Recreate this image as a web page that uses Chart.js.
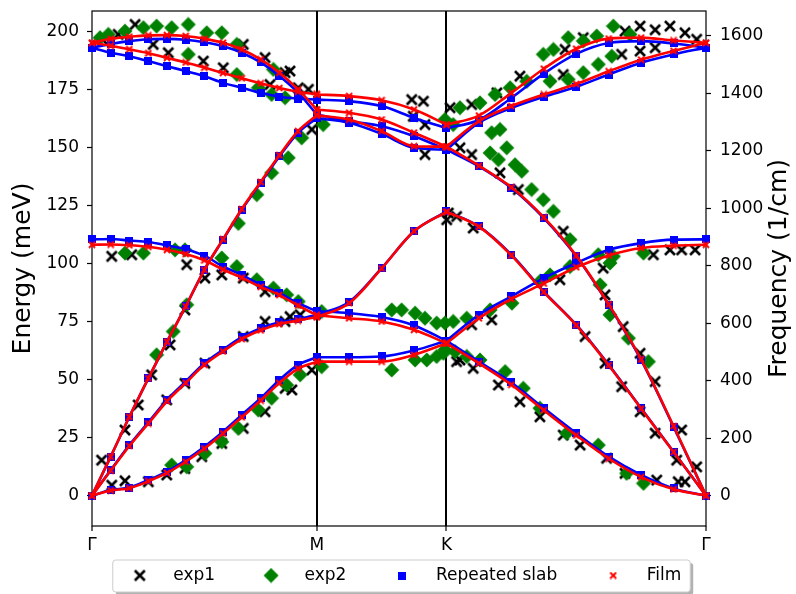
<!DOCTYPE html>
<html>
<head>
<meta charset="utf-8">
<script src="https://cdn.jsdelivr.net/npm/chart.js@4.4.1/dist/chart.umd.min.js"></script>
<style>
  html, body { margin: 0; padding: 0; background: #fff; }
  #wrap { width: 796px; height: 594px; }
</style>
</head>
<body>
<div id="wrap"><canvas id="bands" width="796" height="594"></canvas></div>
<script>
'use strict';

// path positions (Γ-M-K-Γ), q in path units
let qGM = [0, 0.072, 0.144, 0.217, 0.289, 0.361, 0.433, 0.505, 0.577, 0.650, 0.722, 0.794, 0.866];
let qMK = [0.866, 0.991, 1.116, 1.241, 1.366];
let qKG = [1.366, 1.491, 1.616, 1.741, 1.866, 1.991, 2.116, 2.241, 2.366];

let symQ = [0, 0.866, 1.366, 2.366];
let symLabels = ['Γ', 'M', 'K', 'Γ'];

let energyTicks = [0, 25, 50, 75, 100, 125, 150, 175, 200];
let freqTicks = [0, 200, 400, 600, 800, 1000, 1200, 1400, 1600];

let yMin = -13.1;
let yMax = 209.0;
let cmPerMeV = 8.0655;

// Repeated slab (blue), branches ZA, TA, LA, ZO, TO, LO
let slabGM = [
    [0, 2.4, 3.5, 6.7, 10.3, 15.3, 21.1, 27.6, 34.8, 42.0, 49.9, 56.4, 59.7],
    [0, 11.0, 21.8, 31.6, 41.3, 49.2, 57.1, 62.9, 68.3, 72.2, 74.8, 76.1, 78.0],
    [0, 16.8, 34.0, 50.6, 66.4, 81.6, 97.4, 110.4, 123.3, 134.9, 146.3, 156.5, 162.8],
    [110.5, 110.7, 110.0, 109.4, 107.9, 106.3, 103.5, 98.8, 95.2, 90.9, 87.3, 83.0, 79.5],
    [193.2, 191.0, 189.5, 187.4, 185.2, 183.1, 180.9, 178.0, 175.9, 173.7, 172.0, 171.2, 170.8],
    [193.2, 194.8, 196.0, 196.8, 197.0, 196.6, 195.5, 193.8, 191.0, 186.8, 181.0, 173.8, 164.4]
];
let slabMK = [
    [59.7, 59.7, 60.0, 62.6, 66.8],
    [78.0, 83.5, 98.1, 114.0, 122.6],
    [162.8, 160.8, 156.0, 150.0, 149.2],
    [79.5, 78.7, 77.0, 73.4, 66.8],
    [170.8, 170.1, 168.0, 162.9, 158.5],
    [164.4, 161.5, 159.3, 155.0, 149.2]
];
let slabKG = [
    [66.8, 57.8, 48.8, 37.7, 26.9, 16.8, 8.9, 3.1, 0],
    [122.6, 116.1, 103.9, 88.0, 73.7, 56.4, 37.7, 18.9, 0],
    [149.2, 142.0, 132.7, 119.7, 103.2, 82.3, 58.5, 29.7, 0],
    [66.8, 78.0, 85.9, 93.8, 100.3, 106.0, 108.9, 110.4, 110.5],
    [158.5, 162.0, 171.5, 182.0, 190.5, 195.2, 196.0, 195.0, 193.2],
    [149.2, 160.8, 167.2, 172.0, 176.3, 181.6, 186.7, 190.3, 193.2]
];

// Film (red)
let filmGM = [
    [0, 2.2, 3.2, 6.2, 9.8, 14.6, 20.3, 26.8, 33.8, 41.0, 48.6, 54.8, 57.8],
    [0, 10.8, 21.4, 31.1, 40.7, 48.6, 56.4, 62.2, 67.5, 71.3, 74.0, 75.5, 77.0],
    [0, 16.8, 34.0, 50.6, 66.4, 81.6, 97.4, 110.6, 123.6, 135.3, 146.8, 157.2, 164.0],
    [108.2, 108.3, 108.0, 107.3, 106.0, 104.2, 101.5, 97.5, 94.0, 90.0, 86.5, 82.0, 77.8],
    [195.3, 194.0, 192.5, 190.8, 188.8, 186.8, 184.6, 182.3, 180.0, 177.8, 175.8, 174.2, 173.0],
    [195.3, 197.0, 197.9, 198.5, 198.6, 198.2, 197.0, 195.3, 192.4, 188.1, 182.4, 175.2, 166.5]
];
let filmMK = [
    [57.8, 57.8, 57.8, 60.7, 65.7],
    [77.0, 83.0, 98.0, 114.0, 122.4],
    [164.0, 162.2, 157.2, 150.7, 150.5],
    [77.8, 76.5, 75.1, 71.5, 65.7],
    [173.0, 172.3, 170.5, 166.5, 160.0],
    [166.5, 165.1, 162.2, 156.5, 150.5]
];
let filmKG = [
    [65.7, 57.0, 47.8, 36.8, 26.0, 16.0, 8.0, 2.7, 0],
    [122.4, 116.0, 103.6, 87.8, 73.5, 56.2, 37.5, 18.8, 0],
    [150.5, 142.3, 133.0, 120.0, 103.5, 82.5, 58.8, 30.0, 0],
    [65.7, 76.5, 84.8, 91.5, 98.5, 103.6, 106.8, 107.8, 108.2],
    [160.0, 163.9, 173.7, 184.1, 192.7, 197.1, 197.5, 196.3, 195.3],
    [150.5, 161.5, 168.0, 173.0, 177.5, 183.0, 188.0, 191.8, 195.3]
];

// experiment 1 (black x)
let exp1Q = [0.101, 0.166, 0.236, 0.294, 0.429, 0.506, 0.583, 0.667, 0.744, 0.686, 0.795, 0.763, 0.834, 0.847, 0.042,
    1.232, 1.277, 1.283, 1.283, 1.238, 1.380, 1.367, 1.405,
    1.463, 1.560, 1.649, 1.823, 1.893, 2.054, 2.112, 2.170, 2.227, 2.285, 2.330, 2.041, 2.112, 2.170, 1.816,
    1.418, 1.463, 1.373, 1.469, 1.572, 1.643, 1.816, 2.227, 2.272, 2.324, 2.163,
    1.418, 1.469, 1.566, 1.649, 1.726, 1.816, 1.881, 1.983, 2.054, 2.176, 2.259, 2.285, 2.330, 2.272, 2.253,
    2.170, 2.112, 2.041, 1.977, 1.900, 2.170, 2.112, 2.047, 1.977, 1.970, 1.803, 1.540, 1.463,
    0.037, 0.076, 0.127, 0.127, 0.178, 0.230, 0.301, 0.358, 0.435, 0.500, 0.365, 0.583, 0.667, 0.744, 0.667,
    0.583, 0.435, 0.358, 0.288, 0.744, 0.667, 0.583, 0.500, 0.423, 0.358, 0.288, 0.217, 0.076, 0.153,
    0.763, 0.802, 0.847, 0.770, 1.405];
let exp1E = [198.9, 203.2, 194.6, 191.0, 187.4, 184.5, 194.6, 188.9, 182.4, 177.3, 175.9, 183.1, 175.2, 157.9, 196.5,
    170.8, 170.1, 160.0, 147.1, 163.6, 167.3, 119.0, 120.4,
    168.7, 173.7, 180.9, 192.4, 197.5, 200.3, 202.5, 200.9, 202.5, 199.6, 196.8, 190.3, 191.7, 193.2, 181.6,
    150.0, 147.1, 121.9, 115.4, 139.2, 132.0, 114.0, 106.0, 106.0, 106.0, 103.9,
    58.5, 54.9, 47.7, 40.5, 34.0, 26.1, 21.8, 16.1, 9.6, 6.7, 6.0, 6.0, 12.4, 28.3, 15.3,
    26.9, 36.2, 47.0, 57.1, 68.6, 49.2, 61.4, 72.9, 86.6, 98.1, 93.1, 75.8, 73.7,
    15.3, 4.5, 6.4, 28.3, 39.1, 52.1, 65.0, 80.1, 93.8, 95.2, 99.6, 93.8, 88.0, 75.1, 75.1,
    68.6, 57.1, 48.4, 41.3, 46.3, 36.2, 29.0, 22.5, 16.8, 11.7, 8.9, 6.0, 103.2, 103.9,
    77.2, 78.0, 54.2, 45.6, 57.8];

// experiment 2 (green diamonds)
let exp2Q = [0.031, 0.063, 0.127, 0.198, 0.249, 0.307, 0.371, 0.442, 0.500, 0.558, 0.699, 0.371, 0.558, 0.641,
    0.692, 0.744, 0.756, 0.692, 0.635, 0.564, 0.320, 0.358, 0.198, 0.127, 0.500, 0.558, 0.808, 0.891,
    0.365, 0.313, 0.249, 0.635, 0.699, 0.750, 0.795, 0.307, 0.365, 0.435, 0.500, 0.564, 0.641, 0.692, 0.750,
    0.802, 0.885, 0.885,
    1.155, 1.245, 1.290, 1.328, 1.354, 1.155, 1.193, 1.245, 1.283, 1.328, 1.392, 1.360, 1.392,
    1.418, 1.495, 1.553, 1.611, 1.675, 1.739, 1.778, 1.835, 1.893, 1.945, 2.009, 2.073, 1.765, 1.835, 1.893,
    1.951, 2.003,
    1.540, 1.572, 1.598, 1.534, 1.566, 1.630, 1.656, 1.694, 1.739, 1.778, 1.842, 1.951, 2.009, 2.125,
    1.360, 1.444, 1.534, 1.618, 1.726, 1.765, 1.842, 1.996, 1.360, 1.399, 1.444, 1.495, 1.592, 1.662, 1.726,
    1.829, 1.951, 2.060, 2.125, 1.958, 1.996, 2.067, 2.144];
let exp2E = [197.5, 198.9, 200.3, 201.8, 202.5, 201.8, 203.2, 199.6, 199.6, 194.6, 183.8, 190.3, 181.6, 175.9,
    173.0, 171.6, 145.7, 139.2, 129.8, 117.4, 106.0, 106.0, 104.6, 104.6, 102.5, 98.8, 154.3, 160.0,
    82.3, 70.8, 60.7, 93.1, 89.5, 86.6, 83.7, 13.2, 12.4, 18.2, 23.2, 29.0, 36.9, 42.0, 47.7,
    52.1, 79.4, 55.6,
    54.2, 58.5, 58.5, 60.0, 61.4, 80.1, 80.1, 78.7, 76.5, 74.4, 75.1, 162.2, 160.0,
    167.3, 169.4, 173.0, 175.9, 178.7, 190.3, 192.4, 197.5, 196.1, 198.2, 202.5, 198.9, 178.7, 179.5, 182.4,
    186.0, 189.5,
    156.5, 157.9, 150.0, 147.8, 144.9, 142.7, 139.9, 132.0, 127.6, 122.6, 110.4, 103.9, 103.2, 104.6,
    74.4, 76.5, 80.1, 83.0, 92.4, 95.2, 98.8, 100.3, 62.9, 62.1, 60.0, 58.5, 53.5, 46.3, 37.7,
    26.9, 21.8, 9.6, 5.3, 90.9, 78.0, 67.9, 57.8];

let fontName = 'DejaVu Sans';
Chart.defaults.font.family = fontName;
Chart.defaults.color = '#000';

function makeMarker(size, draw) {
    let c = document.createElement('canvas');
    c.width = size;
    c.height = size;
    draw(c.getContext('2d'), size);
    return c;
}

let crossBlack = makeMarker(14, function (g, s) {
    g.strokeStyle = '#000';
    g.lineWidth = 2.6;
    g.beginPath();
    g.moveTo(2, 2); g.lineTo(s - 2, s - 2);
    g.moveTo(s - 2, 2); g.lineTo(2, s - 2);
    g.stroke();
});
let diamondGreen = makeMarker(16, function (g, s) {
    g.fillStyle = '#008000';
    g.beginPath();
    g.moveTo(s / 2, 0.5); g.lineTo(s - 0.5, s / 2);
    g.lineTo(s / 2, s - 0.5); g.lineTo(0.5, s / 2);
    g.closePath();
    g.fill();
});
let squareBlue = makeMarker(8, function (g, s) {
    g.fillStyle = '#0000ff';
    g.fillRect(0, 0, s, s);
});
let crossRed = makeMarker(8, function (g, s) {
    g.strokeStyle = '#ff0000';
    g.lineWidth = 2;
    g.beginPath();
    g.moveTo(1, 1); g.lineTo(s - 1, s - 1);
    g.moveTo(s - 1, 1); g.lineTo(1, s - 1);
    g.stroke();
});

function zipPoints(qs, es) {
    return qs.map((q, i) => ({ x: q, y: es[i] }));
}

// each branch split at M and K, a null point breaks the line
function toLines(gm, mk, kg) {
    let pts = [];
    let segs = [[qGM, gm], [qMK, mk], [qKG, kg]];
    for (let b = 0; b < gm.length; b++) {
        for (let s = 0; s < segs.length; s++) {
            let qs = segs[s][0];
            let vals = segs[s][1][b];
            for (let i = 0; i < qs.length; i++) {
                pts.push({ x: qs[i], y: vals[i] });
            }
            pts.push({ x: qs[qs.length - 1], y: null });
        }
    }
    return pts;
}

function roundBox(ctx, x, y, w, h, r) {
    ctx.beginPath();
    ctx.moveTo(x + r, y);
    ctx.arcTo(x + w, y, x + w, y + h, r);
    ctx.arcTo(x + w, y + h, x, y + h, r);
    ctx.arcTo(x, y + h, x, y, r);
    ctx.arcTo(x, y, x + w, y, r);
    ctx.closePath();
}

let framePlugin = {
    id: 'framePlugin',
    beforeDraw(chart) {
        let hb = chart.legend && chart.legend.legendHitBoxes;
        if (!hb || !hb.length) return;
        let first = hb[0];
        let last = hb[hb.length - 1];
        let x0 = first.left - 2;
        let x1 = last.left + last.width + 9;
        let y0 = first.top - 7;
        let y1 = first.top + first.height + 8;
        let ctx = chart.ctx;
        ctx.save();
        ctx.fillStyle = 'rgba(0,0,0,0.3)';
        roundBox(ctx, x0 + 3, y0 + 3, x1 - x0, y1 - y0, 3);
        ctx.fill();
        ctx.fillStyle = '#fff';
        ctx.strokeStyle = '#cccccc';
        ctx.lineWidth = 1;
        roundBox(ctx, x0, y0, x1 - x0, y1 - y0, 3);
        ctx.fill();
        ctx.stroke();
        ctx.restore();
    },
    beforeDatasetsDraw(chart) {
        let a = chart.chartArea;
        let ctx = chart.ctx;
        ctx.save();
        ctx.strokeStyle = '#000';
        ctx.lineWidth = 1.2;
        ctx.strokeRect(a.left, a.top, a.right - a.left, a.bottom - a.top);
        ctx.restore();
    },
    afterDraw(chart) {
        let a = chart.chartArea;
        let ctx = chart.ctx;
        let cy = (a.top + a.bottom) / 2;
        ctx.save();
        ctx.font = "25px 'DejaVu Sans'";
        ctx.fillStyle = '#000';
        ctx.textAlign = 'center';
        ctx.textBaseline = 'middle';
        [[23, 'Energy (meV)'], [779, 'Frequency (1/cm)']].forEach(function (t) {
            ctx.save();
            ctx.translate(t[0], cy);
            ctx.rotate(-Math.PI / 2);
            ctx.fillText(t[1], 0, 0);
            ctx.restore();
        });
        ctx.restore();
    }
};

let tickFont = { family: fontName, size: 17 };

new Chart(document.getElementById('bands'), {
    type: 'scatter',
    data: {
        datasets: [{
            label: 'exp1',
            data: zipPoints(exp1Q, exp1E),
            pointStyle: crossBlack,
            pointRadius: 5,
            clip: false,
            order: 4
        }, {
            label: 'exp2',
            data: zipPoints(exp2Q, exp2E),
            pointStyle: diamondGreen,
            pointRadius: 5,
            clip: false,
            order: 3
        }, {
            label: 'Repeated slab',
            data: toLines(slabGM, slabMK, slabKG),
            showLine: true,
            borderColor: '#0000ff',
            backgroundColor: '#0000ff',
            borderWidth: 2.6,
            cubicInterpolationMode: 'monotone',
            pointStyle: squareBlue,
            pointRadius: 4,
            clip: false,
            order: 2
        }, {
            label: 'Film',
            data: toLines(filmGM, filmMK, filmKG),
            showLine: true,
            borderColor: '#ff0000',
            backgroundColor: '#ff0000',
            borderWidth: 2.6,
            cubicInterpolationMode: 'monotone',
            pointStyle: crossRed,
            pointRadius: 4,
            clip: false,
            order: 1
        }]
    },
    options: {
        responsive: false,
        animation: false,
        events: [],
        layout: { padding: { top: 11, left: 0, right: 0, bottom: 0 } },
        plugins: {
            tooltip: { enabled: false },
            legend: {
                position: 'bottom',
                labels: {
                    usePointStyle: true,
                    pointStyleWidth: 50,
                    padding: 31,
                    font: { family: fontName, size: 17 },
                    color: '#000',
                    sort: (a, b) => a.datasetIndex - b.datasetIndex
                }
            }
        },
        scales: {
            x: {
                type: 'linear',
                min: symQ[0],
                max: symQ[symQ.length - 1],
                afterBuildTicks: function (s) {
                    s.ticks = symQ.map(v => ({ value: v }));
                },
                afterFit: function (s) {
                    s.height = 10;
                    s.paddingLeft = 0;
                    s.paddingRight = 0;
                },
                ticks: {
                    autoSkip: false,
                    maxRotation: 0,
                    // mirrored labels are not clipped to the thin axis box
                    mirror: true,
                    padding: -29.5,
                    font: tickFont,
                    color: '#000',
                    callback: (v, i) => symLabels[i]
                },
                grid: {
                    color: c => (c.index === 1 || c.index === 2) ? '#000' : 'rgba(0,0,0,0)',
                    lineWidth: 2,
                    tickColor: '#000',
                    tickWidth: 1.2,
                    tickLength: 5
                },
                border: { display: false }
            },
            y: {
                type: 'linear',
                position: 'left',
                min: yMin,
                max: yMax,
                afterBuildTicks: function (s) {
                    s.ticks = energyTicks.map(v => ({ value: v }));
                },
                afterFit: function (s) {
                    s.width = 92;
                    s.paddingTop = 0;
                    s.paddingBottom = 0;
                },
                ticks: {
                    padding: 8,
                    font: tickFont,
                    color: '#000',
                    callback: v => String(v)
                },
                grid: {
                    drawOnChartArea: false,
                    tickColor: '#000',
                    tickWidth: 1.2,
                    tickLength: 5
                },
                border: { display: false }
            },
            y2: {
                type: 'linear',
                position: 'right',
                min: yMin * cmPerMeV,
                max: yMax * cmPerMeV,
                afterBuildTicks: function (s) {
                    s.ticks = freqTicks.map(v => ({ value: v }));
                },
                afterFit: function (s) {
                    s.width = 90;
                    s.paddingTop = 0;
                    s.paddingBottom = 0;
                },
                ticks: {
                    padding: 9,
                    font: tickFont,
                    color: '#000',
                    callback: v => String(v)
                },
                grid: {
                    drawOnChartArea: false,
                    tickColor: '#000',
                    tickWidth: 1.2,
                    tickLength: 5
                },
                border: { display: false }
            }
        }
    },
    plugins: [framePlugin]
});
</script>
</body>
</html>
